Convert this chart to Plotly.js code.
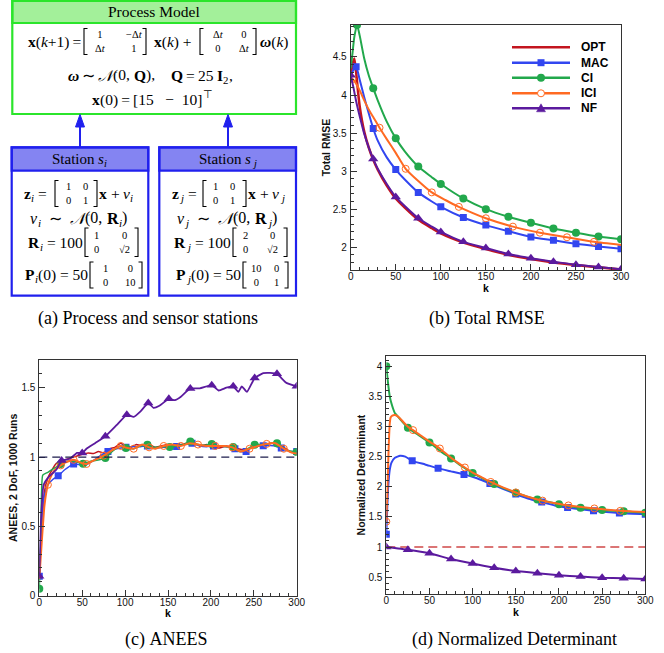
<!DOCTYPE html>
<html><head><meta charset="utf-8">
<script src="https://cdn.plot.ly/plotly-3.0.1.min.js"></script>
<style>html,body{margin:0;padding:0;background:#fff;} #chart{width:664px;height:653px;}</style>
</head><body><div id="chart"></div>
<script>
// ===================== DATA =====================
const seriesNames = ['OPT', 'MAC', 'CI', 'ICI', 'NF'];

// (b) Total RMSE
const rmseK_OPT = [0,2,4,6,8,10,15,20,25,30,40,50,60,75,90,100,125,150,175,200,225,250,275,300];
const rmseOPT   = [4.26,4.40,4.48,4.30,4.06,3.85,3.52,3.31,3.15,3.02,2.81,2.64,2.52,2.36,2.25,2.18,2.06,1.975,1.90,1.845,1.80,1.765,1.735,1.705];
const rmseK_MAC = [0,3,6,10,15,20,25,30,40,50,60,75,90,100,125,150,175,200,225,250,275,300];
const rmseMAC   = [4.25,4.33,4.37,4.20,3.97,3.76,3.56,3.40,3.18,3.02,2.89,2.72,2.60,2.53,2.39,2.29,2.21,2.135,2.09,2.045,2.01,1.98];
const rmseK_CI  = [0,2,4,7,10,15,20,25,30,40,50,60,75,90,100,125,150,175,200,225,250,275,300];
const rmseCI    = [4.35,4.55,4.76,4.92,4.78,4.48,4.26,4.09,3.93,3.65,3.43,3.26,3.06,2.92,2.83,2.64,2.50,2.40,2.32,2.245,2.19,2.14,2.105];
const rmseK_ICI = [0,2,5,10,15,20,25,32,40,50,61,75,90,105,120,150,180,210,240,270,300];
const rmseICI   = [4.23,4.21,4.17,4.06,3.93,3.81,3.71,3.57,3.42,3.24,3.03,2.87,2.72,2.62,2.53,2.38,2.27,2.19,2.13,2.07,2.03];
const rmseK_NF  = [0,3,6,10,15,20,25,30,40,50,60,75,90,100,125,150,175,200,225,250,275,300];
const rmseNF    = [4.26,4.10,3.92,3.72,3.49,3.31,3.16,3.03,2.83,2.66,2.54,2.38,2.27,2.20,2.07,1.99,1.91,1.856,1.81,1.77,1.74,1.71];
const rmseMk_MAC = [6,25,50,75,100,125,150,175,200,225,250,275,300];
const rmseMk_CI  = [7,25,50,75,100,125,150,175,200,225,250,275,300];
const rmseMk_ICI = [2,32,61,90,120,150,180,210,240,270];
const rmseMk_NF  = [0,25,50,75,100,125,150,175,200,225,250,275,300];

// (c) ANEES
const aneesK_OPT = [0,3,6,10,15,20,30,40,50,57,63,69,75,82,88,95,100,107,113,120,128,135,142,150,157,165,172,180,188,195,203,210,218,225,232,240,248,255,262,270,278,285,292,300];
const aneesOPT   = [0.15,0.50,0.75,0.85,0.91,0.955,0.98,1.0,1.02,1.03,1.025,1.04,1.03,1.06,1.07,1.10,1.08,1.07,1.09,1.08,1.09,1.07,1.08,1.09,1.08,1.09,1.10,1.10,1.08,1.09,1.07,1.065,1.08,1.07,1.06,1.05,1.07,1.08,1.09,1.10,1.09,1.07,1.04,1.03];
const aneesK_MAC = [0,2,5,10,16,22,30,40,48,55,62,70,80,90,101,110,118,126,137,145,152,160,170,178,187,195,203,212,220,228,234,241,249,261,273,282,292,300];
const aneesMAC   = [0.14,0.40,0.70,0.80,0.84,0.865,0.91,0.95,0.945,0.945,0.97,1.005,1.04,1.06,1.07,1.077,1.075,1.08,1.065,1.07,1.072,1.077,1.09,1.10,1.08,1.075,1.08,1.078,1.072,1.06,1.04,1.04,1.077,1.082,1.082,1.065,1.04,1.04];
const aneesK_CI  = [0,2,4,10,20,25,30,40,51,60,70,77,85,94,101,110,118,126,135,143,152,160,168,176,185,193,201,210,218,226,233,240,251,262,270,277,288,300];
const aneesCI    = [0.05,0.50,0.87,0.89,0.93,0.95,0.965,0.97,0.952,0.97,0.98,0.993,1.04,1.08,1.065,1.06,1.08,1.089,1.07,1.075,1.072,1.08,1.09,1.113,1.09,1.085,1.094,1.08,1.075,1.072,1.04,1.05,1.089,1.09,1.10,1.10,1.05,1.036];
const aneesK_ICI = [0,3,6,10,15,20,25,30,40,50,55,65,75,85,95,100,110,120,128,135,145,155,165,175,185,195,205,215,225,235,245,255,265,275,285,295,300];
const aneesICI   = [0.12,0.40,0.65,0.80,0.88,0.92,0.94,0.96,0.98,0.955,0.95,0.98,1.01,1.05,1.08,1.07,1.06,1.09,1.07,1.06,1.08,1.09,1.08,1.10,1.09,1.08,1.08,1.08,1.07,1.04,1.06,1.08,1.095,1.10,1.06,1.03,1.025];
const aneesK_NF  = [0,2,5,10,15,20,26,30,36,44,50,55,65,77,90,102,110,118,127,133,140,151,158,165,176,187,201,209,218,226,232,236,242,251,261,269,277,288,300];
const aneesNF    = [0.14,0.55,0.80,0.85,0.88,0.91,0.975,0.98,0.99,1.03,1.03,1.06,1.10,1.15,1.23,1.305,1.29,1.33,1.39,1.355,1.37,1.42,1.41,1.435,1.495,1.495,1.518,1.48,1.50,1.51,1.47,1.51,1.47,1.57,1.605,1.607,1.60,1.535,1.51];
const aneesMk_MAC = [0,22,40,80,101,126,160,178,203,228,241,261,282,300];
const aneesMk_CI  = [0,25,51,77,101,126,152,176,201,226,251,277,300];
const aneesMk_ICI = [10,25,40,55,75,95,110,128,145,165,185,205,225,245,265,285];
const aneesMk_NF  = [0,26,50,77,102,127,151,176,201,226,251,277,300];
const aneesRef = 1;

// (d) Normalized Determinant
const detK_OPT = [0,300];
const detOPT   = [1,1];
const detK_MAC = [0,1,2,3,4,6,10,16,22,30,45,60,75,90,105,120,135,150,165,180,195,210,225,240,255,270,285,300];
const detMAC   = [1.21,1.60,1.95,2.15,2.28,2.40,2.48,2.515,2.50,2.43,2.37,2.305,2.255,2.205,2.14,2.055,1.965,1.88,1.80,1.745,1.69,1.655,1.625,1.60,1.58,1.565,1.55,1.545];
const detK_CI  = [0,2,4,6,8,10,12,18,25,37,50,62,75,87,100,112,125,137,150,162,175,187,200,212,225,237,250,262,275,287,300];
const detCI    = [4.0,3.72,3.50,3.38,3.29,3.22,3.19,3.09,2.98,2.86,2.735,2.60,2.47,2.345,2.23,2.135,2.045,1.97,1.90,1.84,1.79,1.75,1.71,1.68,1.65,1.63,1.615,1.60,1.593,1.58,1.57];
const detK_ICI = [0,1,2,3,4,5,7,10,14,20,26,31,40,50,62,75,91,100,110,121,135,150,165,181,196,211,226,241,256,271,285,300];
const detICI   = [1.42,1.80,2.30,2.75,3.05,3.15,3.18,3.19,3.16,3.07,2.985,2.94,2.85,2.75,2.635,2.48,2.32,2.235,2.16,2.08,1.99,1.905,1.83,1.77,1.725,1.69,1.665,1.64,1.62,1.60,1.59,1.58];
const detK_NF  = [0,25,50,75,100,125,150,175,200,225,250,275,300];
const detNF    = [1.0,0.955,0.895,0.80,0.725,0.655,0.60,0.565,0.53,0.51,0.49,0.48,0.47];
const detMk_MAC = [0,30,60,90,120,150,180,210,240,270,300];
const detMk_CI  = [0,25,50,75,100,125,150,175,200,225,250,275,300];
const detMk_ICI = [0,31,62,91,121,150,181,211,241,271];
const detMk_NF  = [0,25,50,75,100,125,150,175,200,225,250,275,300];

// ===================== STYLE =====================
const W = 664, H = 653;
const px = x => x / W;
const py = y => 1 - y / H;
const C = {OPT:'#c3151f', MAC:'#3246f0', CI:'#22a84c', ICI:'#ff6a22', NF:'#5b1a9e'};
const SYM = {MAC:{symbol:'square', size:7}, CI:{symbol:'circle', size:8}, ICI:{symbol:'circle-open', size:7}, NF:{symbol:'triangle-up', size:9}};
const SANS = 'Liberation Sans, Arial, Helvetica, sans-serif';
const SERIF_NAME = 'Liberation Serif';
const SERIF = 'Liberation Serif, Times New Roman, serif';
const AX = '#333';

const traces = [];
function pick(k, v, mk) {
  const xs = [], ys = [];
  mk.forEach(m => { const i = k.indexOf(m); if (i >= 0) { xs.push(k[i]); ys.push(v[i]); } });
  return {x: xs, y: ys};
}
function addSeries(ax, name, k, v, mk, opt) {
  opt = opt || {};
  traces.push({type:'scatter', mode:'lines', x:k, y:v, xaxis:'x'+ax, yaxis:'y'+ax, name:name,
    line:{color:opt.color || C[name], width:opt.lw || 2, shape:opt.shape || 'spline', smoothing:opt.sm || 0.6, dash:opt.dash || 'solid'},
    hoverinfo:'skip', showlegend:false});
  if (mk) {
    const p = pick(k, v, mk);
    const s = SYM[name];
    traces.push({type:'scatter', mode:'markers', x:p.x, y:p.y, xaxis:'x'+ax, yaxis:'y'+ax, name:name,
      marker:{symbol:s.symbol, size:s.size, color:C[name], line:{width: name === 'ICI' ? 1 : 0, color:C[name]}},
      hoverinfo:'skip', showlegend:false});
  }
}
// (b)
addSeries('', 'OPT', rmseK_OPT, rmseOPT, null, {lw:2.5});
addSeries('', 'MAC', rmseK_MAC, rmseMAC, rmseMk_MAC);
addSeries('', 'CI',  rmseK_CI,  rmseCI,  rmseMk_CI);
addSeries('', 'ICI', rmseK_ICI, rmseICI, rmseMk_ICI);
addSeries('', 'NF',  rmseK_NF,  rmseNF,  rmseMk_NF);
// (c)
addSeries('2', 'OPT', aneesK_OPT, aneesOPT, null, {lw:1.5, sm:0.4});
addSeries('2', 'MAC', aneesK_MAC, aneesMAC, aneesMk_MAC, {lw:1.5, sm:0.4});
addSeries('2', 'CI',  aneesK_CI,  aneesCI,  aneesMk_CI, {lw:1.5, sm:0.4});
addSeries('2', 'ICI', aneesK_ICI, aneesICI, aneesMk_ICI, {lw:2, sm:0.4});
addSeries('2', 'NF',  aneesK_NF,  aneesNF,  aneesMk_NF, {lw:1.8, sm:0.4});
// (d)
addSeries('3', 'OPT', detK_OPT, detOPT, null, {lw:1.5, shape:'linear', dash:'9px,5px', color:'#d04848'});
addSeries('3', 'MAC', detK_MAC, detMAC, detMk_MAC, {sm:0.4});
addSeries('3', 'CI',  detK_CI,  detCI,  detMk_CI, {sm:0.4});
addSeries('3', 'ICI', detK_ICI, detICI, detMk_ICI, {sm:0.4});
addSeries('3', 'NF',  detK_NF,  detNF,  detMk_NF, {sm:0.4});

const TF = {family:SANS, size:10, color:'#111'};
const TT = {family:SANS, size:10.5, color:'#111'};
function mkX(x0, x1, anchor) {
  return {domain:[px(x0), px(x1)], anchor:anchor, range:[0,300], tick0:0, dtick:50,
    ticks:'inside', ticklen:6, tickwidth:1, tickcolor:AX, showline:true, mirror:true, linecolor:AX, linewidth:1,
    showgrid:false, zeroline:false, fixedrange:true, ticklabelstandoff:-3,
    minor:{ticks:'inside', ticklen:3, tickwidth:1, tickcolor:AX, dtick:10, tick0:0, showgrid:false},
    tickfont:TF};
}
function mkY(yTop, yBot, range, anchor, title, standoff) {
  return {domain:[py(yBot), py(yTop)], anchor:anchor, range:range, tick0:0, dtick:0.5,
    ticks:'inside', ticklen:6, tickwidth:1, tickcolor:AX, showline:true, mirror:true, linecolor:AX, linewidth:1,
    showgrid:false, zeroline:false, fixedrange:true, ticklabelstandoff:1,
    minor:{ticks:'inside', ticklen:3, tickwidth:1, tickcolor:AX, dtick:0.1, tick0:0, showgrid:false},
    tickfont:TF, title:{text:'<b>' + title + '</b>', font:TT, standoff:standoff}};
}

// ===================== SHAPES / ANNOTATIONS =====================
const shapes = [], annotations = [];
function rect(x0, y0, x1, y1, color, width, fill) {
  shapes.push({type:'rect', xref:'paper', yref:'paper', x0:px(x0), x1:px(x1), y0:py(y1), y1:py(y0),
    line:{color:color, width:width}, fillcolor:fill || 'rgba(0,0,0,0)', layer:'below'});
}
function pathP(pts, color, width, fill) {
  const d = pts.map((p, i) => (i ? 'L' : 'M') + px(p[0]) + ',' + py(p[1])).join(' ') + (fill ? ' Z' : '');
  shapes.push({type:'path', xref:'paper', yref:'paper', path:d, line:{color:color, width:width}, fillcolor:fill || 'rgba(0,0,0,0)'});
}
function bracket(xl, xr, yt, yb) {
  const a = 3.5;
  pathP([[xl+a, yt], [xl, yt], [xl, yb], [xl+a, yb]], '#000', 1.1);
  pathP([[xr-a, yt], [xr, yt], [xr, yb], [xr-a, yb]], '#000', 1.1);
}
function T(x, y, text, size, anchor, fam) {
  annotations.push({xref:'paper', yref:'paper', x:px(x), y:py(y), text:text, showarrow:false,
    xanchor:anchor || 'center', yanchor:'middle', align:'center', font:{family:fam || SERIF, size:size, color:'#000'}});
}
const NB = '\u00A0', TH = '\u2009';
const sp = s => s.replace(/ /g, NB);

// small typesetter: runs of [text, code]; code letters b=bold, i=italic, s=subscript, p=superscript
const ctx = document.createElement('canvas').getContext('2d');
function mline(runs, x, y, size, anchor) {
  const items = runs.map(([t, code]) => {
    const b = code.includes('b'), it = code.includes('i'), sub = code.includes('s'), sup = code.includes('p');
    const fs = (sub || sup) ? size * 0.7 : size;
    ctx.font = (it ? 'italic ' : '') + (b ? 'bold ' : '') + fs + 'px "' + SERIF_NAME + '"';
    const txt = sp(t);
    const isJ = sub && t === 'j';
    const padL = isJ ? 0.5 : (sub ? 0.3 : 0);
    const padR = isJ ? 2.2 : (sub ? 0.6 : 0);
    return {txt, b, it, sub, sup, fs, padL, w: ctx.measureText(txt).width + padL + padR};
  });
  const total = items.reduce((a, r) => a + r.w, 0);
  let cx = anchor === 'right' ? x - total : anchor === 'left' ? x : x - total / 2;
  items.forEach(r => {
    const dy = r.sub ? 0.3 * size : r.sup ? -0.36 * size : 0;
    annotations.push({xref:'paper', yref:'paper', x:px(cx + r.padL), y:py(y + dy), text:r.txt, showarrow:false,
      xanchor:'left', yanchor:'middle', borderpad:0, borderwidth:0,
      font:{family:SERIF, size:r.fs, color:'#000', weight:r.b ? 'bold' : 'normal', style:r.it ? 'italic' : 'normal'}});
    cx += r.w;
  });
}

const GREEN = '#2be52b', GFILL = '#a3f09a', BLUE = '#2020ee', BFILL = '#8484f2';
const MS = 15.5;   // main math size
const ES = 10.5;   // matrix entry size
// 2x2 matrix: brackets + one two-line annotation per column
function matrix(xl, xr, yt, yb, c1x, c2x, entries) {
  bracket(xl, xr, yt, yb);
  const ym = (yt + yb) / 2;
  T(c1x, ym, entries[0] + '<br>' + entries[2], ES);
  T(c2x, ym, entries[1] + '<br>' + entries[3], ES);
}
const Dt = 'Δ<i>t</i>';

// Process model box
rect(12.3, 1, 296, 23, GREEN, 2.2, GFILL);
rect(12.3, 1, 296, 114, GREEN, 2.2);
T(154, 12, 'Process' + NB + 'Model', 15.5);
T(82.5, 41.5, '<b>x</b>(<i>k</i>+1)' + TH + '=', MS, 'right');
matrix(84, 146, 28.5, 54.5, 100, 134.5, ['1', '−' + Dt, Dt, '1']);
T(172.5, 41.5, '<b>x</b>(<i>k</i>)' + NB + '+', MS);
matrix(200, 256, 28.5, 54.5, 218.5, 244, [Dt, '0', '0', Dt]);
T(258, 41.5, '<b><i>ω</i></b>(<i>k</i>)', MS, 'left');
mline([['ω','bi'], [TH + '∼' + TH, ''], ['𝒩','i'], ['(0, ', ''], ['Q','b'], ['),    ', ''], ['Q','b'], [TH + '=' + TH + '25 ', ''], ['I','b'], ['2','s'], [',', '']], 150.5, 75.5, MS, 'center');
mline([['x','b'], ['(0)' + TH + '=' + TH + '[15   −  10]', ''], ['⊤','p']], 152.5, 100, MS, 'center');

// arrows
[80, 228].forEach(ax => {
  shapes.push({type:'line', xref:'paper', yref:'paper', x0:px(ax), x1:px(ax), y0:py(147), y1:py(125), line:{color:BLUE, width:2}});
  pathP([[ax-4.5, 127], [ax, 114.5], [ax+4.5, 127]], BLUE, 1, BLUE);
});

// station boxes
rect(11.7, 147.3, 148.3, 170.7, BLUE, 2.2, BFILL);
rect(11.7, 147.3, 148.3, 295.7, BLUE, 2.2);
rect(159.3, 147.3, 296, 170.7, BLUE, 2.2, BFILL);
rect(159.3, 147.3, 296, 295.7, BLUE, 2.2);

function station(id, o, zR, zM, xpL, vC, rR, rM, rE, pR, pM, pE) {
  mline([['Station ', ''], ['s','i'], [id,'is']], 80 + o, 158.5, 15, 'center');
  mline([['z','b'], [id,'is'], [' =', '']], zR, 193.5, MS, 'right');
  matrix(zM[0], zM[1], 180.5, 206.5, zM[2], zM[3], ['1', '0', '0', '1']);
  mline([['x','b'], [' + ', ''], ['v','i'], [id,'is']], xpL, 193.5, MS, 'left');
  mline([['v','i'], [id,'is'], ['  ∼  ', ''], ['𝒩','i'], ['(0, ', ''], ['R','b'], [id,'is'], [')', '']], vC, 218, 16, 'center');
  mline([['R','b'], [id,'is'], [' = 100', '']], rR, 242, MS, 'right');
  matrix(rM[0], rM[1], 228, 256.5, rM[2], rM[3], rE);
  mline([['P','b'], [id,'is'], ['(0) = 50', '']], pR, 274.5, MS, 'right');
  matrix(pM[0], pM[1], 262, 288, pM[2], pM[3], pE);
}
station('i', 0, 47, [55, 97, 68.3, 85], 99, 79, 83, [85, 138, 96.7, 124], ['1', '0', '0', '√2'], 88.5, [90, 142, 105, 130], ['1', '0', '0', '10']);
station('j', 148, 197, [203, 246, 215.5, 232.5], 248, 227, 231, [233, 287, 245, 272], ['2', '0', '0', '√2'], 241.5, [243, 288, 256, 276], ['10', '0', '0', '1']);

// captions
T(148, 318, '(a)' + NB + 'Process and sensor stations', 18);
T(487, 318, '(b)' + NB + 'Total RMSE', 18);
T(166, 639, '(c)' + NB + 'ANEES', 18);
T(514, 639, '(d)' + NB + 'Normalized Determinant', 18);

// x-axis titles
T(486, 288, '<b>k</b>', 10.5, 'center', SANS);
T(168, 612.5, '<b>k</b>', 10.5, 'center', SANS);
T(516, 612, '<b>k</b>', 10.5, 'center', SANS);

// manual legend for (b)
const legRows = [47.3, 62.7, 77.7, 93.3, 108.3];
seriesNames.forEach((nm, i) => {
  const r = legRows[i];
  shapes.push({type:'line', xref:'paper', yref:'paper', x0:px(512), x1:px(570), y0:py(r), y1:py(r), line:{color:C[nm], width:2.5}});
  if (nm === 'MAC') shapes.push({type:'rect', xref:'paper', yref:'paper', x0:px(537.5), x1:px(544.5), y0:py(r+3.5), y1:py(r-3.5), fillcolor:C[nm], line:{width:0}});
  if (nm === 'CI') shapes.push({type:'circle', xref:'paper', yref:'paper', x0:px(537), x1:px(545), y0:py(r+4), y1:py(r-4), fillcolor:C[nm], line:{width:0}});
  if (nm === 'ICI') shapes.push({type:'circle', xref:'paper', yref:'paper', x0:px(537.5), x1:px(544.5), y0:py(r+3.5), y1:py(r-3.5), fillcolor:'#fff', line:{color:C[nm], width:1}});
  if (nm === 'NF') pathP([[536.5, r+3.5], [541, r-4.5], [545.5, r+3.5]], C[nm], 0.5, C[nm]);
  T(579, r, '<b>' + nm + '</b>', 12, 'left', SANS);
});

// reference line in (c)
shapes.push({type:'line', xref:'x2 domain', yref:'y2', x0:0, x1:1, y0:aneesRef, y1:aneesRef, line:{color:'#1c1c4c', width:1.3, dash:'8px,5px'}});

const layout = {
  width:W, height:H, margin:{l:0, r:0, t:0, b:0}, paper_bgcolor:'#fff', plot_bgcolor:'#fff', showlegend:false,
  xaxis: mkX(350.7, 621, 'y'),
  yaxis: mkY(25, 270, [1.70, 4.92], 'x', 'Total RMSE', 0),
  xaxis2: mkX(39.3, 296.7, 'y2'),
  yaxis2: mkY(360, 595.7, [0, 1.70], 'x2', 'ANEES, 2 DoF, 1000 Runs', 1),
  xaxis3: mkX(386.3, 645.3, 'y3'),
  yaxis3: mkY(356, 594, [0.22, 4.17], 'x3', 'Normalized Determinant', 0),
  shapes:shapes, annotations:annotations
};
Plotly.newPlot('chart', traces, layout, {displayModeBar:false, staticPlot:true});
</script></body></html>
